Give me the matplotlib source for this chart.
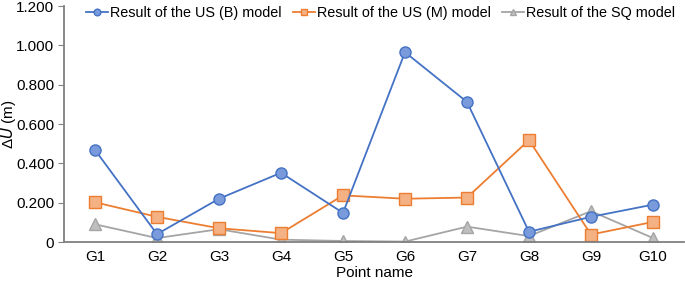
import matplotlib.pyplot as plt
import numpy as np

plt.rcParams['font.family'] = ['Liberation Sans', 'DejaVu Sans']

points = ['G1', 'G2', 'G3', 'G4', 'G5', 'G6', 'G7', 'G8', 'G9', 'G10']
us_b = [0.468, 0.040, 0.220, 0.352, 0.148, 0.965, 0.712, 0.052, 0.128, 0.190]
us_m = [0.202, 0.128, 0.070, 0.045, 0.237, 0.220, 0.226, 0.518, 0.038, 0.102]
sq = [0.090, 0.020, 0.065, 0.012, 0.005, 0.002, 0.078, 0.030, 0.157, 0.020]

fig = plt.figure(figsize=(6.85, 2.82), dpi=100)
ax = fig.add_axes([64 / 685, 40 / 282, 620 / 685, 236 / 282])

x = np.arange(1, len(points) + 1)
ax.plot(x, us_b, color='#4472C4', marker='o', markersize=8, markerfacecolor='#7A9BDB',
        markeredgecolor='#4472C4', lw=1.3, label='Result of the US (B) model', zorder=3)
ax.plot(x, us_m, color='#ED7D31', marker='s', markersize=8, markerfacecolor='#F4B183',
        markeredgecolor='#ED7D31', lw=1.3, label='Result of the US (M) model', zorder=2)
ax.plot(x, sq, color='#A5A5A5', marker='^', markersize=8, markerfacecolor='#BFBFBF',
        markeredgecolor='#A5A5A5', lw=1.3, label='Result of the SQ model', zorder=1)

ax.set_xlim(0.5, 10.5)
ax.set_ylim(0, 1.2)
ax.set_xticks(x)
ax.set_xticklabels(points)
yt = np.arange(0, 1.21, 0.2)
ax.set_yticks(yt)
ax.set_yticklabels(['0'] + [f'{v:.3f}' for v in yt[1:]])
ax.tick_params(axis='x', length=0, labelsize=11, pad=6)
ax.tick_params(axis='y', length=4, direction='out', labelsize=11, color='#808080', pad=3)
for s in ['top', 'right']:
    ax.spines[s].set_visible(False)
for s in ['left', 'bottom']:
    ax.spines[s].set_color('#808080')
    ax.spines[s].set_linewidth(1.3)

ax.set_xlabel('Point name', fontsize=11, labelpad=1)
ax.set_ylabel('Δ$\\it{U}$ (m)', fontsize=11)
ax.yaxis.set_label_coords(-46 / 620, 0.5)

ax.legend(loc='upper left', bbox_to_anchor=(22 / 620, 1.0), ncol=3, frameon=False,
          fontsize=10.4, handlelength=1.5, columnspacing=0.8, handletextpad=0.15,
          markerscale=0.6, borderaxespad=0, borderpad=0)

fig.savefig('out.png', dpi=100)
